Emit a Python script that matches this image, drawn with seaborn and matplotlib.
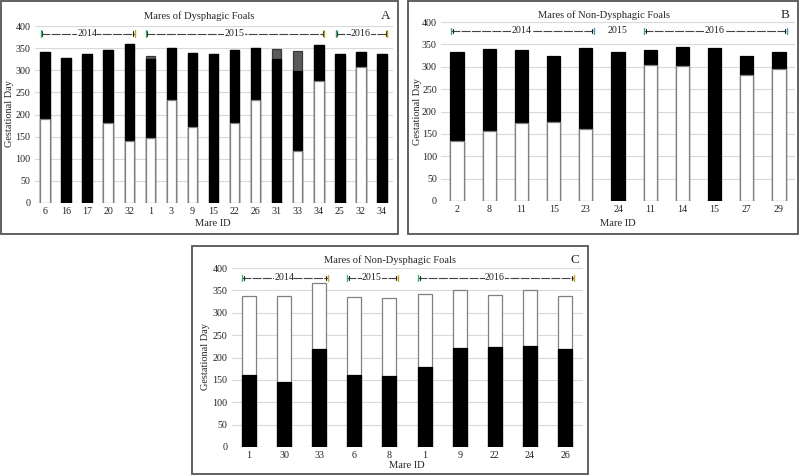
import matplotlib
matplotlib.use("Agg")
import matplotlib.pyplot as plt
import seaborn as sns
import pandas as pd
from matplotlib.patches import Rectangle

sns.set_theme(style="white")
plt.rcParams['font.family'] = ['Liberation Serif', 'DejaVu Serif']

# ---------------- data ----------------
# Panel A: Mares of Dysphagic Foals (white bottom, black middle, grey top)
a_ids = ["6", "16", "17", "20", "32", "1", "3", "9", "15", "22", "26", "31", "33", "34", "25", "32", "34"]
a_years = ["2014"] * 5 + ["2015"] * 9 + ["2016"] * 3
a_white = [190, 0, 0, 180, 140, 147, 232, 172, 0, 180, 233, 0, 118, 275, 0, 308, 0]
a_black_top = [342, 328, 337, 346, 360, 326, 351, 339, 336, 345, 350, 325, 298, 356, 337, 341, 337]
a_total = [342, 328, 337, 346, 360, 332, 351, 339, 336, 345, 350, 347, 343, 356, 337, 341, 337]

# Panel B: Mares of Non-Dysphagic Foals (white bottom, black top)
b_ids = ["2", "8", "11", "15", "23", "24", "11", "14", "15", "27", "29"]
b_years = ["2014"] * 5 + ["2015"] + ["2016"] * 5
b_white = [133, 157, 175, 176, 162, 0, 305, 302, 0, 281, 296]
b_total = [333, 339, 338, 323, 342, 332, 338, 344, 341, 325, 334]

# Panel C: Mares of Non-Dysphagic Foals (black bottom, white top)
c_ids = ["1", "30", "33", "6", "8", "1", "9", "22", "24", "26"]
c_years = ["2014"] * 3 + ["2015"] * 2 + ["2016"] * 5
c_black = [160, 145, 220, 162, 158, 178, 222, 223, 226, 220]
c_total = [338, 338, 366, 336, 333, 343, 350, 339, 350, 338]

yticks = [0, 50, 100, 150, 200, 250, 300, 350, 400]

# ---------------- layout helpers ----------------
W, H = 800, 476
fig = plt.figure(figsize=(W / 100, H / 100), dpi=100)
FS = 7.2


def fx(x):
    return x / W


def fy(y):
    return 1 - y / H


def make_ax(x0, x1, ytop, ybot):
    return fig.add_axes([fx(x0), fy(ybot), fx(x1) - fx(x0), (ybot - ytop) / H])


def layer(ax, n, values, color, edge, width):
    df = pd.DataFrame({"pos": list(range(n)), "v": values})
    df = df[df["v"] > 0]
    sns.barplot(data=df, x="pos", y="v", order=list(range(n)), color=color,
                edgecolor=edge, linewidth=0.9, width=width, errorbar=None,
                saturation=1, ax=ax)


def style_ax(ax, ids):
    n = len(ids)
    ax.set_xlim(-0.5, n - 0.5)
    ax.set_ylim(0, 400)
    ax.set_yticks(yticks)
    ax.set_xticks(list(range(n)))
    ax.set_xticklabels(ids)
    ax.set_xlabel("")
    ax.set_ylabel("")
    for s in ax.spines.values():
        s.set_visible(False)
    ax.yaxis.grid(True, color="#d9d9d9", linewidth=0.8)
    ax.set_axisbelow(True)
    ax.tick_params(axis="both", length=0, labelsize=FS, colors="#222222")
    ax.tick_params(axis="y", pad=3)
    ax.tick_params(axis="x", pad=3)


def years_bracket(ax, years, ybr, lcol="#3fae6a", rcol="#c9a52a"):
    groups = []
    for i, yv in enumerate(years):
        if groups and groups[-1][0] == yv:
            groups[-1][2] = i
        else:
            groups.append([yv, i, i])
    for yv, s, e in groups:
        mid = (s + e) / 2
        if s == e:
            ax.text(mid, ybr, yv, ha="center", va="center", fontsize=FS, color="#222222")
            continue
        x0, x1 = s - 0.2, e + 0.25
        ax.plot([x0, x1], [ybr, ybr], color="#444444", lw=0.8,
                linestyle=(0, (8, 1.2)), clip_on=False, zorder=5)
        ax.plot([x0 + 0.06, x0 + 0.06], [ybr - 5, ybr + 5], color="#222222", lw=0.8, zorder=6)
        ax.plot([x1 - 0.06, x1 - 0.06], [ybr - 5, ybr + 5], color="#222222", lw=0.8, zorder=6)
        ax.plot([x0, x0], [ybr - 7, ybr + 7], color=lcol, lw=1.0, zorder=6)
        ax.plot([x1, x1], [ybr - 7, ybr + 7], color=rcol, lw=1.0, zorder=6)
        ax.text(mid, ybr, yv, ha="center", va="center", fontsize=FS, color="#222222",
                zorder=7, bbox=dict(facecolor="white", edgecolor="none", pad=0.2))


def panel_frame(x0, y0, x1, y1):
    fig.patches.append(Rectangle((fx(x0), fy(y1)), fx(x1) - fx(x0), (y1 - y0) / H,
                                 transform=fig.transFigure, fill=False,
                                 edgecolor="#555555", linewidth=1.3))


# ---------------- Panel A ----------------
axA = make_ax(34.5, 392.5, 26, 203)
nA = len(a_ids)
layer(axA, nA, a_total, "#5a5a5a", "#3a3a3a", 0.45)
layer(axA, nA, a_black_top, "black", "black", 0.45)
layer(axA, nA, a_white, "white", "#808080", 0.45)
style_ax(axA, a_ids)
years_bracket(axA, a_years, 383)
panel_frame(1, 1, 398, 234)
fig.text(fx(199), fy(16), "Mares of Dysphagic Foals", ha="center", va="center", fontsize=7.6)
fig.text(fx(386), fy(16), "A", ha="center", va="center", fontsize=9.5)
fig.text(fx(10), fy(114), "Gestational Day", rotation=90, ha="center", va="center", fontsize=7.4)
fig.text(fx(213), fy(223), "Mare ID", ha="center", va="center", fontsize=7.6)

# ---------------- Panel B ----------------
axB = make_ax(441, 795, 22, 201)
nB = len(b_ids)
layer(axB, nB, b_total, "black", "black", 0.41)
layer(axB, nB, b_white, "white", "#808080", 0.41)
style_ax(axB, b_ids)
years_bracket(axB, b_years, 380, rcol="#3aa0b0")
panel_frame(408, 1, 798, 234)
fig.text(fx(604), fy(15), "Mares of Non-Dysphagic Foals", ha="center", va="center", fontsize=7.6)
fig.text(fx(785), fy(15), "B", ha="center", va="center", fontsize=9.5)
fig.text(fx(417), fy(112), "Gestational Day", rotation=90, ha="center", va="center", fontsize=7.4)
fig.text(fx(618), fy(223), "Mare ID", ha="center", va="center", fontsize=7.6)

# ---------------- Panel C ----------------
axC = make_ax(231.5, 582.5, 268, 447)
nC = len(c_ids)
layer(axC, nC, c_total, "white", "#808080", 0.4)
layer(axC, nC, c_black, "black", "black", 0.4)
style_ax(axC, c_ids)
years_bracket(axC, c_years, 378)
panel_frame(192, 246, 588, 474)
fig.text(fx(390), fy(260), "Mares of Non-Dysphagic Foals", ha="center", va="center", fontsize=7.6)
fig.text(fx(575), fy(260), "C", ha="center", va="center", fontsize=9.5)
fig.text(fx(206), fy(357), "Gestational Day", rotation=90, ha="center", va="center", fontsize=7.4)
fig.text(fx(407), fy(465), "Mare ID", ha="center", va="center", fontsize=7.6)

fig.savefig("out.png", dpi=100, facecolor="white")
